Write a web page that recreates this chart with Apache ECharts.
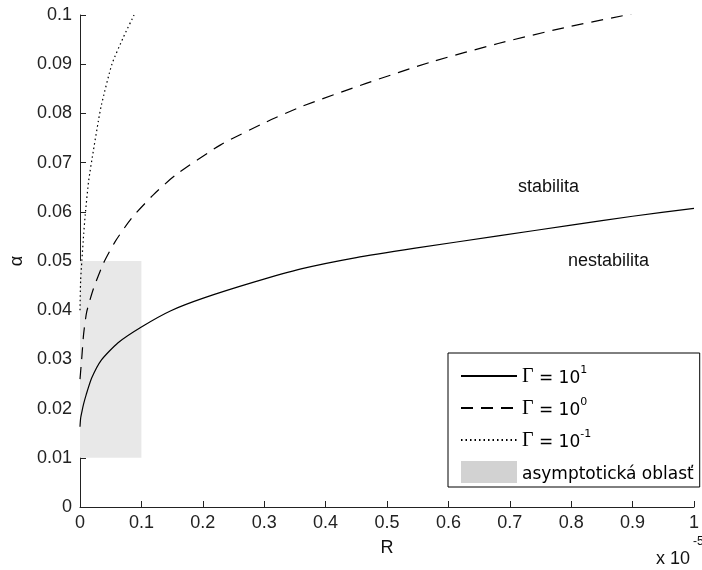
<!DOCTYPE html>
<html>
<head>
<meta charset="utf-8">
<script src="https://cdn.jsdelivr.net/npm/echarts@6/dist/echarts.min.js"></script>
<style>
html,body{margin:0;padding:0;background:#fff;}
#chart{width:702px;height:570px;}
</style>
</head>
<body>
<div id="chart"></div>
<script>
// ---- data ----
var xTicks = [0, 0.1, 0.2, 0.3, 0.4, 0.5, 0.6, 0.7, 0.8, 0.9, 1];
var yTicks = [0, 0.01, 0.02, 0.03, 0.04, 0.05, 0.06, 0.07, 0.08, 0.09, 0.1];

var seriesNames = ['Γ = 10^1', 'Γ = 10^0', 'Γ = 10^-1', 'asymptotická oblasť'];

// Γ = 10^1 (solid)
var R_g1 = [0, 0.001, 0.003, 0.006, 0.01, 0.019, 0.035, 0.062, 0.1, 0.148, 0.202, 0.283, 0.36, 0.45, 0.546, 0.681, 0.8, 0.9, 1.0];
var A_g1 = [0.0163, 0.018, 0.0193, 0.021, 0.0228, 0.0262, 0.0299, 0.0334, 0.0366, 0.0399, 0.0425, 0.0457, 0.0484, 0.0507, 0.0526, 0.0551, 0.0573, 0.0591, 0.0607];

// Γ = 10^0 (dashed)
var R_g0 = [0, 0.003, 0.006, 0.011, 0.022, 0.038, 0.057, 0.084, 0.119, 0.156, 0.229, 0.304, 0.363, 0.466, 0.573, 0.681, 0.788, 0.898];
var A_g0 = [0.026, 0.0305, 0.0353, 0.0397, 0.0444, 0.0495, 0.0539, 0.0587, 0.0634, 0.0675, 0.0736, 0.0783, 0.0815, 0.0861, 0.0905, 0.0942, 0.0974, 0.1002];

// Γ = 10^-1 (dotted)
var R_gm1 = [0, 0.001, 0.003, 0.006, 0.0086, 0.014, 0.022, 0.03, 0.035, 0.052, 0.07, 0.088];
var A_gm1 = [0.040, 0.046, 0.050, 0.0555, 0.0595, 0.0662, 0.0726, 0.0785, 0.0818, 0.090, 0.0953, 0.100];

// asymptotic region: [R0, a0, R1, a1]
var asymRegion = [0, 0.01, 0.1, 0.05];

function zip(xs, ys) { return xs.map(function (x, i) { return [x, ys[i]]; }); }

var FONT = 'Liberation Sans, Arial, sans-serif';
var chart = echarts.init(document.getElementById('chart'), null, {renderer: 'canvas'});

var legendLabels = {};
legendLabels[seriesNames[0]] = '{g|Γ}{t| = 10}{s|1}';
legendLabels[seriesNames[1]] = '{g|Γ}{t| = 10}{s|0}';
legendLabels[seriesNames[2]] = '{g|Γ}{t| = 10}{s|-1}';
legendLabels[seriesNames[3]] = '{t|asymptotická oblasť}';

var lineLegendStyle = {color: 'rgba(0,0,0,0)', borderWidth: 0, borderColor: 'rgba(0,0,0,0)'};

var option = {
  animation: false,
  backgroundColor: '#fff',
  grid: {left: 78, top: 15, right: 4, bottom: 63, containLabel: false},
  xAxis: {
    type: 'value', min: 0, max: 1, interval: 0.1,
    name: 'R', nameLocation: 'middle', nameGap: 32,
    nameTextStyle: {fontFamily: FONT, fontSize: 18, color: '#111'},
    axisLine: {show: true, lineStyle: {color: '#222', width: 1}},
    axisTick: {show: true, inside: true, length: 6, lineStyle: {color: '#222'}},
    axisLabel: {fontFamily: FONT, fontSize: 18, color: '#222', margin: 7,
      formatter: function (v) { return String(Math.round(v * 10) / 10); }},
    splitLine: {show: false}
  },
  yAxis: {
    type: 'value', min: 0, max: 0.1, interval: 0.01,
    name: 'α', nameLocation: 'middle', nameGap: 54, nameRotate: 90,
    nameTextStyle: {fontFamily: FONT, fontSize: 18, color: '#111'},
    axisLine: {show: true, lineStyle: {color: '#222', width: 1}},
    axisTick: {show: true, inside: true, length: 6, lineStyle: {color: '#222'}},
    axisLabel: {fontFamily: FONT, fontSize: 18, color: '#222', margin: 8,
      formatter: function (v) { return String(Math.round(v * 100) / 100); }},
    splitLine: {show: false}
  },
  legend: {
    orient: 'vertical', left: 448, top: 353,
    padding: [12, 6, 4, 12],
    itemWidth: 56, itemHeight: 22, itemGap: 10,
    borderColor: '#000', borderWidth: 1, backgroundColor: '#fff',
    selectedMode: false,
    formatter: function (n) { return legendLabels[n]; },
    textStyle: {
      color: '#000', fontFamily: 'DejaVu Sans', fontSize: 17,
      rich: {
        g: {fontFamily: 'Liberation Serif', fontSize: 20, color: '#000', lineHeight: 22, verticalAlign: 'bottom'},
        t: {fontFamily: 'DejaVu Sans', fontSize: 17, color: '#000', lineHeight: 22, verticalAlign: 'bottom'},
        s: {fontFamily: 'DejaVu Sans', fontSize: 11, color: '#000', lineHeight: 12, verticalAlign: 'top'}
      }
    },
    data: [
      {name: seriesNames[0], icon: 'inherit', itemStyle: lineLegendStyle},
      {name: seriesNames[1], icon: 'inherit', itemStyle: lineLegendStyle},
      {name: seriesNames[2], icon: 'inherit', itemStyle: lineLegendStyle},
      {name: seriesNames[3], icon: 'rect', itemStyle: {color: '#d2d2d2'}}
    ]
  },
  graphic: [
    {type: 'text', left: 518, top: 178, style: {text: 'stabilita', font: '18px ' + FONT, fill: '#111'}},
    {type: 'text', left: 568, top: 252, style: {text: 'nestabilita', font: '18px ' + FONT, fill: '#111'}},
    {type: 'text', left: 656, top: 550, style: {text: 'x 10', font: '18px ' + FONT, fill: '#111'}},
    {type: 'text', left: 693, top: 536, style: {text: '-5', font: '12px ' + FONT, fill: '#111'}}
  ],
  series: [
    {
      name: seriesNames[3], type: 'custom', z: 1,
      itemStyle: {color: '#e8e8e8'},
      encode: {x: [0, 2], y: [1, 3]},
      data: [asymRegion],
      renderItem: function (params, api) {
        var p0 = api.coord([api.value(0), api.value(3)]);
        var p1 = api.coord([api.value(2), api.value(1)]);
        return {type: 'rect', shape: {x: p0[0], y: p0[1], width: p1[0] - p0[0], height: p1[1] - p0[1]},
          style: {fill: '#e8e8e8'}};
      }
    },
    {
      name: seriesNames[0], type: 'line', z: 3, symbol: 'none', smooth: 0.2,
      data: zip(R_g1, A_g1), itemStyle: {color: '#000'},
      lineStyle: {color: '#000', width: 1.2, type: 'solid'}
    },
    {
      name: seriesNames[1], type: 'line', z: 3, symbol: 'none', smooth: 0.2,
      data: zip(R_g0, A_g0), itemStyle: {color: '#000'},
      lineStyle: {color: '#000', width: 1.2, type: [12, 8]}
    },
    {
      name: seriesNames[2], type: 'line', z: 3, symbol: 'none', smooth: 0.2,
      data: zip(R_gm1, A_gm1), itemStyle: {color: '#000'},
      lineStyle: {color: '#000', width: 1.2, type: [1.5, 3]}
    }
  ]
};
chart.setOption(option);
</script>
</body>
</html>
